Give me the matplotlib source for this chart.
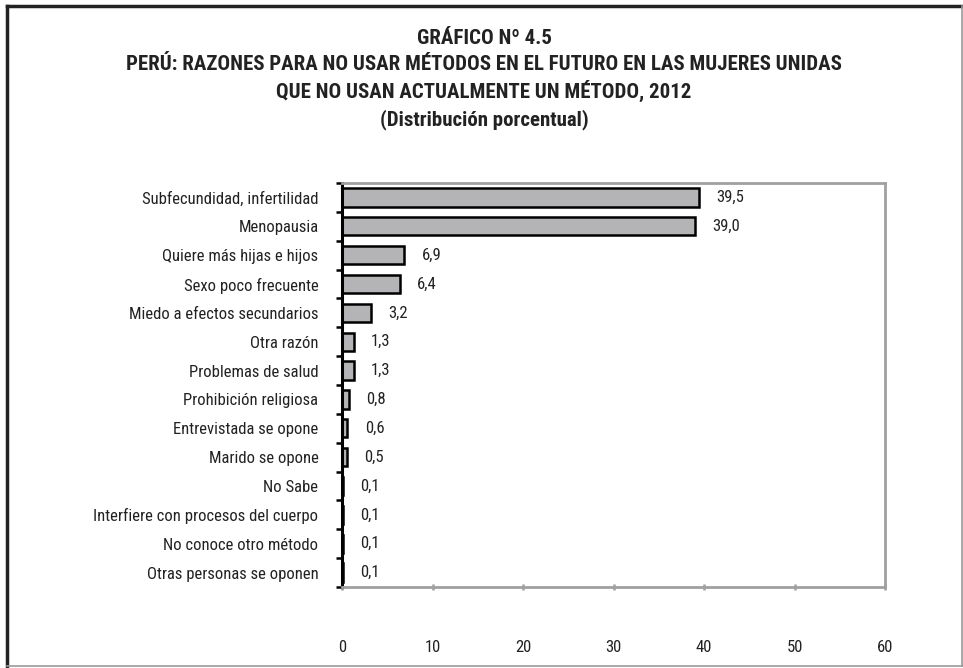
import matplotlib.pyplot as plt
from matplotlib.lines import Line2D

plt.rcParams['font.family'] = ['Roboto Condensed', 'DejaVu Sans']

razones = [
    'Subfecundidad, infertilidad',
    'Menopausia',
    'Quiere más hijas e hijos',
    'Sexo poco frecuente',
    'Miedo a efectos secundarios',
    'Otra razón',
    'Problemas de salud',
    'Prohibición religiosa',
    'Entrevistada se opone',
    'Marido se opone',
    'No Sabe',
    'Interfiere con procesos del cuerpo',
    'No conoce otro método',
    'Otras personas se oponen',
]
porcentajes = [39.5, 39.0, 6.9, 6.4, 3.2, 1.3, 1.3, 0.8, 0.6, 0.5, 0.1, 0.1, 0.1, 0.1]
x_ticks = [0, 10, 20, 30, 40, 50, 60]

fig = plt.figure(figsize=(9.63, 6.68), dpi=100)
ax = fig.add_axes([342 / 963, 1 - 587 / 668, (885 - 342) / 963, (587 - 183) / 668])

n = len(razones)
pos = list(range(n))
ax.barh(pos, porcentajes, height=0.63, color='#b4b4b6', edgecolor='black', linewidth=1.8)
for p, v in zip(pos, porcentajes):
    ax.text(v + 1.9, p, f'{v:.1f}'.replace('.', ','), va='center', ha='left',
            fontsize=12, color='#222222')

ax.set_ylim(n - 0.5, -0.5)
ax.set_xlim(0, 60)
ax.set_yticks(pos)
ax.set_yticklabels(razones, fontsize=12, color='#222222')
ax.set_yticks([i - 0.5 for i in range(n + 1)], minor=True)
ax.tick_params(axis='y', which='major', length=0, pad=17)
ax.tick_params(axis='y', which='minor', length=4, width=1.8, color='black')
ax.set_xticks(x_ticks)
ax.set_xticklabels([str(t) for t in x_ticks], fontsize=12, color='#222222')
ax.tick_params(axis='x', length=4, width=1.8, color='#a0a0a0', pad=36, direction='inout')

ax.spines['left'].set_color('black')
ax.spines['left'].set_linewidth(2.2)
for s in ['top', 'right', 'bottom']:
    ax.spines[s].set_color('#a0a0a0')
    ax.spines[s].set_linewidth(2)

# outer frame
fig.add_artist(Line2D([7 / 963, 7 / 963], [1 - 666 / 668, 1 - 6 / 668], transform=fig.transFigure, color='#222222', lw=2.5))
fig.add_artist(Line2D([7 / 963, 962 / 963], [1 - 6 / 668, 1 - 6 / 668], transform=fig.transFigure, color='#222222', lw=2.5))
fig.add_artist(Line2D([962 / 963, 962 / 963], [1 - 666 / 668, 1 - 6 / 668], transform=fig.transFigure, color='#999999', lw=1.2))
fig.add_artist(Line2D([7 / 963, 962 / 963], [1 - 666 / 668, 1 - 666 / 668], transform=fig.transFigure, color='#999999', lw=1.2))

titulos = [
    'GRÁFICO Nº 4.5',
    'PERÚ: RAZONES PARA NO USAR MÉTODOS EN EL FUTURO EN LAS MUJERES UNIDAS',
    'QUE NO USAN ACTUALMENTE UN MÉTODO, 2012',
    '(Distribución porcentual)',
]
for t, y in zip(titulos, [38, 64, 91, 120]):
    fig.text(484 / 963, 1 - y / 668, t, ha='center', va='center', fontsize=15,
             fontweight='bold', color='#222222')

fig.savefig('out.png', dpi=100)
